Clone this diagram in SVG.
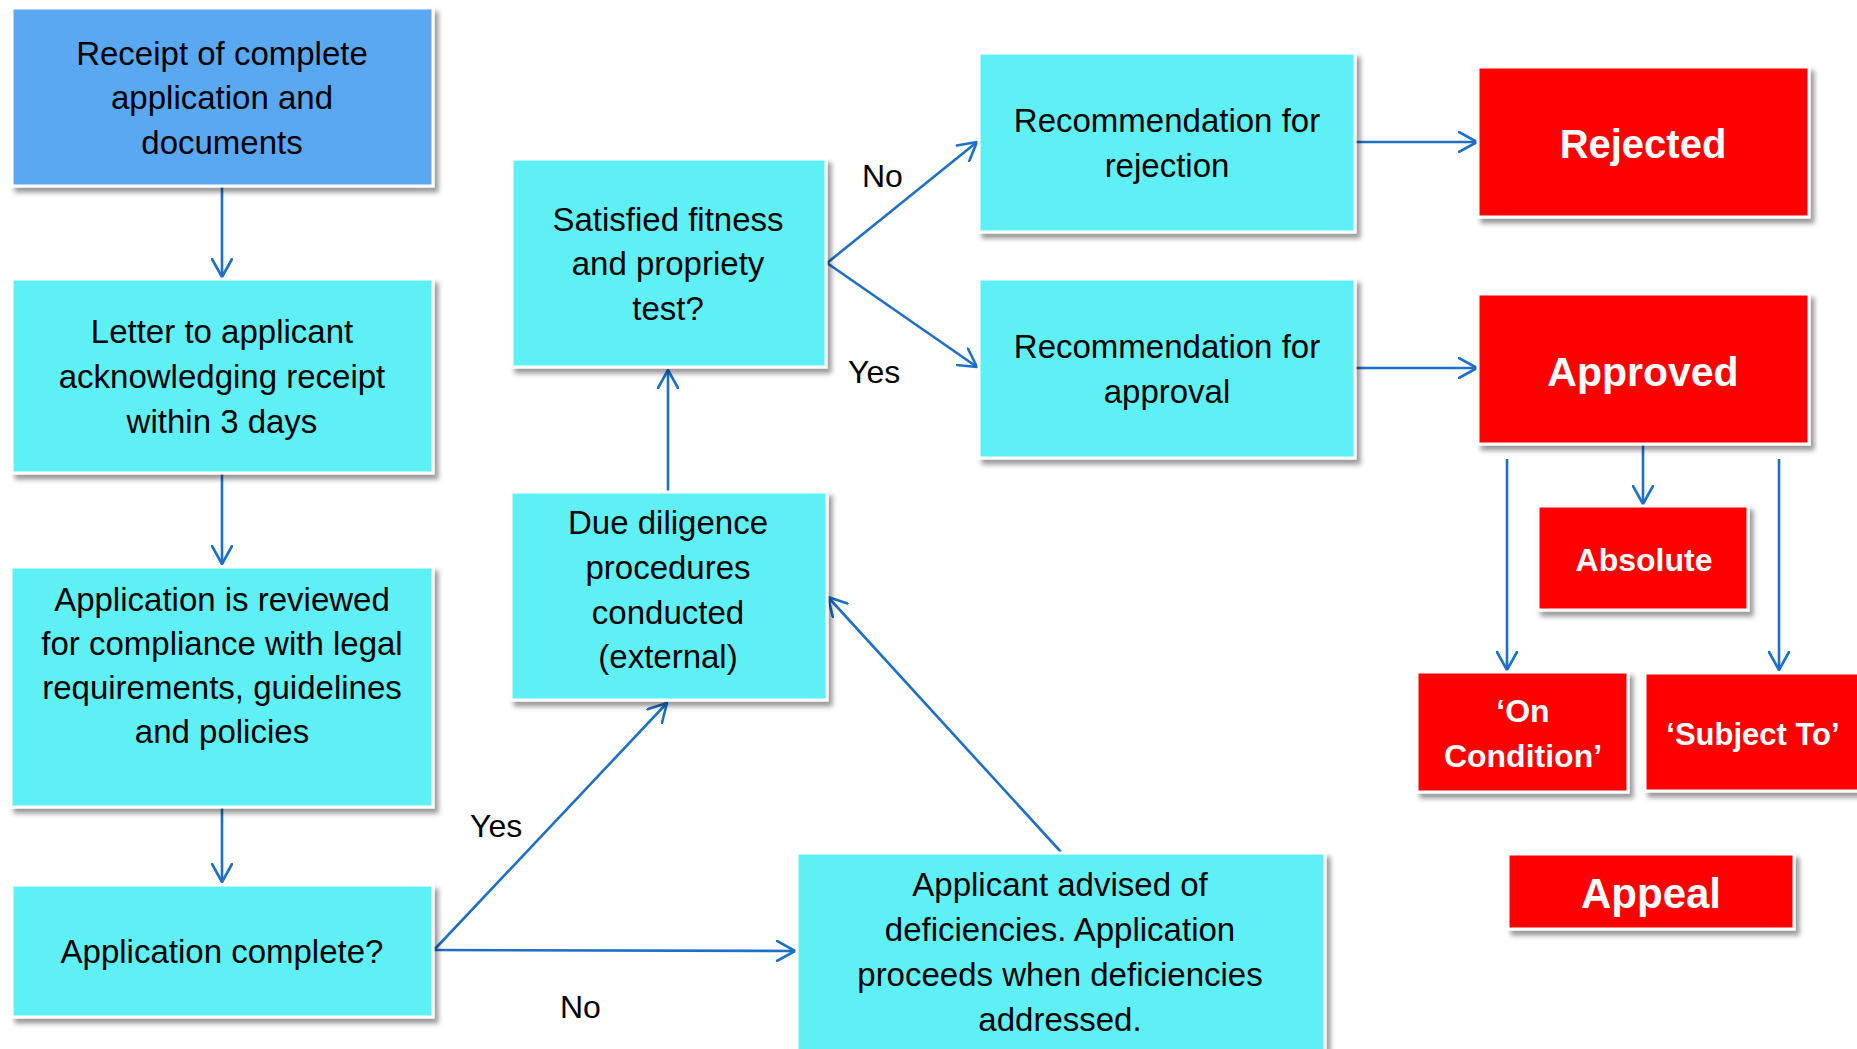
<svg xmlns="http://www.w3.org/2000/svg" width="1857" height="1049" viewBox="0 0 1857 1049">
<defs>
<filter id="sh" x="-10%" y="-10%" width="125%" height="130%">
<feDropShadow dx="4" dy="5" stdDeviation="2.5" flood-color="#000" flood-opacity="0.4"/>
</filter>
<marker id="ah" viewBox="0 0 20 22" refX="19" refY="11" markerWidth="20" markerHeight="22" markerUnits="userSpaceOnUse" orient="auto">
<path d="M1,1 L19,11 L1,21" fill="none" stroke="#1E6FC8" stroke-width="2.6" stroke-linecap="round" stroke-linejoin="round"/>
</marker>
<style>
.box{stroke:#ffffff;stroke-width:3;filter:url(#sh)}
.blue{fill:#5AA8F1}
.cyan{fill:#5FF0F6}
.red{fill:#FE0000}
.t{font-family:"Liberation Sans",Arial,sans-serif;font-size:33px;fill:#000;text-anchor:middle}
.w{font-family:"Liberation Sans",Arial,sans-serif;font-weight:bold;fill:#fff;text-anchor:middle}
.lbl{font-family:"Liberation Sans",Arial,sans-serif;font-size:32px;fill:#000}
.c{stroke:#1E6FC8;stroke-width:2.6;fill:none;marker-end:url(#ah)}
.c2{stroke:#1E6FC8;stroke-width:2.6;fill:none}
</style>
</defs>
<rect width="1857" height="1049" fill="#fff"/>

<g id="connectors">
<line class="c" x1="222" y1="187" x2="222" y2="277"/>
<line class="c" x1="222" y1="474" x2="222" y2="564"/>
<line class="c" x1="222" y1="808" x2="222" y2="882"/>
<line class="c" x1="434" y1="950" x2="667" y2="703"/>
<line class="c" x1="434" y1="950" x2="795" y2="951"/>
<line class="c" x1="1061" y1="852" x2="828" y2="597"/>
<line class="c" x1="668" y1="491" x2="668" y2="370"/>
<line class="c" x1="827" y1="263" x2="977" y2="142"/>
<line class="c" x1="827" y1="263" x2="977" y2="367"/>
<line class="c" x1="1356" y1="142" x2="1477" y2="142"/>
<line class="c" x1="1356" y1="368" x2="1477" y2="368"/>
<line class="c" x1="1643" y1="445" x2="1643" y2="504"/>
<line class="c" x1="1507" y1="459" x2="1507" y2="670"/>
<line class="c" x1="1779" y1="459" x2="1779" y2="670"/>
</g>

<g id="labels">
<text class="lbl" x="470" y="837">Yes</text>
<text class="lbl" x="560" y="1018">No</text>
<text class="lbl" x="862" y="187">No</text>
<text class="lbl" x="848" y="383">Yes</text>
</g>

<g id="receipt">
<rect class="box blue" x="12" y="8" width="421" height="178"/>
<text class="t" x="222" y="65">Receipt of complete</text>
<text class="t" x="222" y="109">application and</text>
<text class="t" x="222" y="154">documents</text>
</g>

<g id="letter">
<rect class="box cyan" x="12" y="279" width="421" height="194"/>
<text class="t" x="222" y="343">Letter to applicant</text>
<text class="t" x="222" y="388">acknowledging receipt</text>
<text class="t" x="222" y="433">within 3 days</text>
</g>

<g id="review">
<rect class="box cyan" x="11" y="567" width="422" height="240"/>
<text class="t" x="222" y="611">Application is reviewed</text>
<text class="t" x="222" y="655">for compliance with legal</text>
<text class="t" x="222" y="699">requirements, guidelines</text>
<text class="t" x="222" y="743">and policies</text>
</g>

<g id="complete">
<rect class="box cyan" x="12" y="885" width="421" height="132"/>
<text class="t" x="222" y="963">Application complete?</text>
</g>

<g id="duediligence">
<rect class="box cyan" x="511" y="492" width="316" height="208"/>
<text class="t" x="668" y="534">Due diligence</text>
<text class="t" x="668" y="579">procedures</text>
<text class="t" x="668" y="624">conducted</text>
<text class="t" x="668" y="668">(external)</text>
</g>

<g id="satisfied">
<rect class="box cyan" x="512" y="159" width="314" height="208"/>
<text class="t" x="668" y="231">Satisfied fitness</text>
<text class="t" x="668" y="275">and propriety</text>
<text class="t" x="668" y="320">test?</text>
</g>

<g id="advised">
<rect class="box cyan" x="797" y="853" width="528" height="200"/>
<text class="t" x="1060" y="896">Applicant advised of</text>
<text class="t" x="1060" y="941">deficiencies. Application</text>
<text class="t" x="1060" y="986">proceeds when deficiencies</text>
<text class="t" x="1060" y="1031">addressed.</text>
</g>

<g id="recrejection">
<rect class="box cyan" x="979" y="53" width="376" height="179"/>
<text class="t" x="1167" y="132">Recommendation for</text>
<text class="t" x="1167" y="177">rejection</text>
</g>

<g id="recapproval">
<rect class="box cyan" x="979" y="279" width="376" height="179"/>
<text class="t" x="1167" y="358">Recommendation for</text>
<text class="t" x="1167" y="403">approval</text>
</g>

<g id="rejected">
<rect class="box red" x="1478" y="67" width="331" height="150"/>
<text class="w" x="1643" y="158" font-size="40">Rejected</text>
</g>

<g id="approved">
<rect class="box red" x="1478" y="294" width="331" height="150"/>
<text class="w" x="1643" y="386" font-size="41">Approved</text>
</g>

<g id="absolute">
<rect class="box red" x="1538" y="506" width="210" height="104"/>
<text class="w" x="1644" y="571" font-size="32">Absolute</text>
</g>

<g id="oncondition">
<rect class="box red" x="1417" y="672" width="211" height="120"/>
<text class="w" x="1523" y="722" font-size="32">‘On</text>
<text class="w" x="1523" y="767" font-size="32">Condition’</text>
</g>

<g id="subjectto">
<rect class="box red" x="1645" y="673" width="230" height="118"/>
<text class="w" x="1753" y="745" font-size="31">‘Subject To’</text>
</g>

<g id="appeal">
<rect class="box red" x="1508" y="854" width="286" height="75"/>
<text class="w" x="1651" y="908" font-size="42">Appeal</text>
</g>
</svg>
